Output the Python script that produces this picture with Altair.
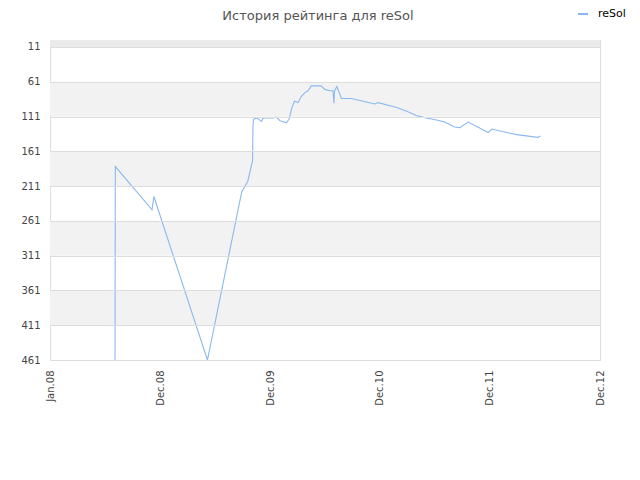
import altair as alt
import pandas as pd

dates = ["2008-07-04", "2008-07-05", "2008-11-04", "2008-11-10", "2009-05-07",
         "2009-08-29", "2009-09-18", "2009-10-04", "2009-10-05", "2009-10-07",
         "2009-10-17", "2009-11-03", "2009-11-08", "2009-12-11", "2009-12-22",
         "2010-01-03", "2010-01-25", "2010-02-03", "2010-02-11", "2010-02-20",
         "2010-03-04", "2010-03-15", "2010-03-26", "2010-04-06", "2010-04-17",
         "2010-05-09", "2010-05-20", "2010-06-01", "2010-06-17", "2010-06-28",
         "2010-07-01", "2010-07-03", "2010-07-11", "2010-07-26", "2010-08-06",
         "2010-08-28", "2010-10-06", "2010-11-14", "2010-11-25", "2011-01-26",
         "2011-03-04", "2011-04-03", "2011-05-04", "2011-06-07", "2011-07-04",
         "2011-08-06", "2011-08-23", "2011-09-20", "2011-11-26", "2011-12-07",
         "2012-01-26", "2012-02-28", "2012-05-09", "2012-05-17"]
ranks = [461, 183, 245, 226, 461,
         219, 204, 174, 126, 115,
         113, 118, 113, 113, 112,
         117, 120, 114, 99, 89,
         91, 82, 77, 74, 67,
         67, 67, 72, 74, 74,
         92, 74, 68, 85, 85,
         85, 89, 93, 91, 98,
         104, 110, 113, 116, 119,
         126, 127, 119, 134, 129,
         134, 137, 141, 139]

tick_dates = ["2007-12-01", "2008-12-01", "2009-12-01", "2010-12-01", "2011-12-01", "2012-12-01"]
tick_labels = ["Jan.08", "Dec.08", "Dec.09", "Dec.10", "Dec.11", "Dec.12"]
y_ticks = [11, 61, 111, 161, 211, 261, 311, 361, 411, 461]
band_start = [1, 61, 161, 261, 361]
band_end = [11, 111, 211, 311, 411]
band_fill = ["#ebebeb", "#f2f2f2", "#f2f2f2", "#f2f2f2", "#f2f2f2"]

W, H = 550, 320

df = pd.DataFrame({"date": pd.to_datetime(dates), "rank": ranks, "series": "reSol"})
bands = pd.DataFrame({"y": band_start, "y2": band_end, "fill": band_fill})

yscale = alt.Scale(domain=[1, 461], reverse=True, nice=False, zero=False)
xscale = alt.Scale(domain=[pd.Timestamp(tick_dates[0]).isoformat(), pd.Timestamp(tick_dates[-1]).isoformat()], nice=False)

label_map = "{" + ",".join(f"'{d[:7]}':'{l}'" for d, l in zip(tick_dates, tick_labels)) + "}"

yaxis = alt.Axis(values=y_ticks, ticks=False, domain=False, grid=True, zindex=1,
                 gridColor="#dddddd", labelPadding=10,
                 labelFont="DejaVu Sans", labelFontSize=10, labelColor="#444")

band_layer = alt.Chart(bands).mark_rect().encode(
    x=alt.value(0), x2=alt.value(W),
    y=alt.Y("y:Q", scale=yscale, axis=yaxis, title=None),
    y2="y2:Q",
    fill=alt.Fill("fill:N", scale=None, legend=None),
)

line = alt.Chart(df).mark_line(strokeWidth=1.1, clip=True, interpolate="linear").encode(
    x=alt.X("date:T", scale=xscale, title=None,
            axis=alt.Axis(values=[pd.Timestamp(d).isoformat() for d in tick_dates],
                          labelExpr=f"{label_map}[timeFormat(datum.value, '%Y-%m')]",
                          labelAngle=270, labelAlign="right", labelBaseline="middle",
                          ticks=False, domain=False, grid=False, labelPadding=10,
                          labelFont="DejaVu Sans", labelFontSize=10, labelColor="#444")),
    y=alt.Y("rank:Q", scale=yscale, title=None, axis=yaxis),
    color=alt.Color("series:N", scale=alt.Scale(range=["#8ab8f0"]), title=None,
                    legend=alt.Legend(orient="none", legendX=527, legendY=-32,
                                      symbolType="stroke", symbolSize=100, symbolStrokeWidth=2,
                                      labelFont="DejaVu Sans", labelFontSize=11,
                                      labelOffset=9, labelColor="#000")),
)

chart = alt.layer(band_layer, line).properties(
    width=W, height=H,
    title=alt.Title("История рейтинга для reSol", font="DejaVu Sans", fontSize=13,
                    fontWeight="normal", color="#555", offset=-15, dx=-7),
    autosize=alt.AutoSizeParams(type="none"),
    padding={"left": 42, "top": 32, "right": 32, "bottom": 100},
).configure_view(stroke="#dddddd").configure(background="white")

chart.save("out.html", embed_options={"renderer": "svg", "actions": False})
